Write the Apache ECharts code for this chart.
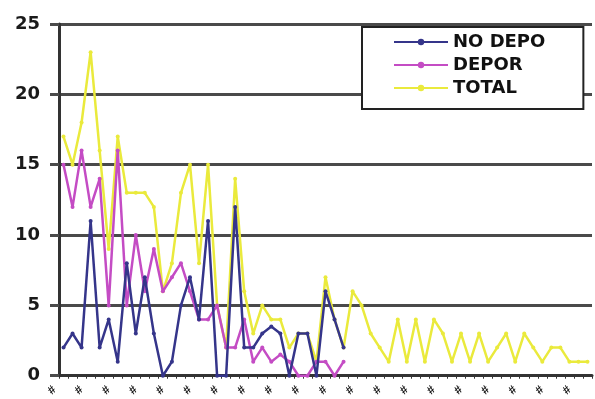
<!DOCTYPE html>
<html>
<head>
<meta charset="utf-8">
<script src="https://cdn.jsdelivr.net/npm/echarts@6/dist/echarts.min.js"></script>
<style>
html,body{margin:0;padding:0;background:#fff;}
#chart{width:595px;height:399px;}
</style>
</head>
<body>
<div id="chart"></div>
<script>
const categories = ['1','2','3','4','5','6','7','8','9','10','11','12','13','14','15','16','17','18','19','20',
  '21','22','23','24','25','26','27','28','29','30','31','32','33','34','35','36','37','38','39','40',
  '41','42','43','44','45','46','47','48','49','50','51','52','53','54','55','56','57','58','59'];
const tickLabel = '#';
const yTicks = [0, 5, 10, 15, 20, 25];
const seriesNames = ['NO DEPO', 'DEPOR', 'TOTAL'];
const noDepo = [2,3,2,11,2,4,1,8,3,7,3,0,1,5,7,4,11,0,0,12,2,2,3,3.5,3,0,3,3,0,6,4,2];
const depor  = [15,12,16,12,14,5,16,5,10,6,9,6,7,8,6,4,4,5,2,2,4,1,2,1,1.5,1,0,0,1,1,0,1];
const total  = [17,15,18,23,16,9,17,13,13,13,12,6,8,13,15,8,15,5,2,14,6,3,5,4,4,2,3,3,1,7,4,2,
  6,5,3,2,1,4,1,4,1,4,3,1,3,1,3,1,2,3,1,3,2,1,2,2,1,1,1];

const colors = ['#35358a', '#c44cc4', '#eaea3c'];
const chart = echarts.init(document.getElementById('chart'), null, {renderer:'canvas'});
const mk = (name, data, color, z) => ({
  name, type:'line', data, z,
  symbol:'circle', symbolSize:4,
  lineStyle:{color, width:2.5},
  itemStyle:{color},
  emphasis:{disabled:true}
});
chart.setOption({
  animation:false,
  grid:{left:59, right:3, top:24, bottom:23},
  legend:{
    data:seriesNames, orient:'vertical', left:362, top:27,
    backgroundColor:'#fff', borderColor:'#222', borderWidth:2, borderRadius:0,
    padding:[5,38,11,31], itemGap:3, itemWidth:54, itemHeight:8,
    textStyle:{fontFamily:'DejaVu Sans', fontWeight:'bold', fontSize:18, color:'#111', lineHeight:20}
  },
  xAxis:{
    type:'category', data:categories, boundaryGap:true,
    axisLine:{lineStyle:{color:'#333', width:3}},
    axisTick:{show:true, interval:0, length:3, lineStyle:{color:'#333', width:1}},
    axisLabel:{interval:2, rotate:45, formatter:() => tickLabel, fontSize:12, fontWeight:'bold',
      color:'#111', margin:3, padding:[0,13,0,0]},
    splitLine:{show:false}
  },
  yAxis:{
    type:'value', min:yTicks[0], max:yTicks[yTicks.length-1], interval:5,
    axisLine:{show:true, lineStyle:{color:'#333', width:3}},
    axisTick:{show:true, length:9, lineStyle:{color:'#4a4a4a', width:3}},
    axisLabel:{fontFamily:'DejaVu Sans', fontWeight:'bold', fontSize:18, color:'#1a1a1a', margin:19},
    splitLine:{lineStyle:{color:'#4a4a4a', width:3}}
  },
  series:[
    mk(seriesNames[0], noDepo, colors[0], 5),
    mk(seriesNames[1], depor, colors[1], 4),
    mk(seriesNames[2], total, colors[2], 3)
  ]
});
</script>
</body>
</html>
